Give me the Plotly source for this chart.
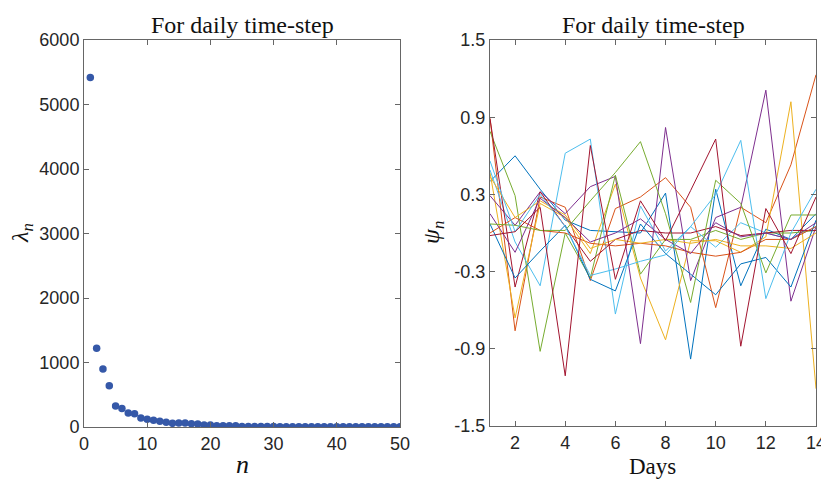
import plotly.graph_objects as go

# ---------- data ----------
n_vals = list(range(1, 51))
lambda_vals = [5420, 1220, 900, 640, 326, 285, 218, 207, 140, 119, 104, 88, 73, 57, 62, 62, 52, 47, 31, 31,
               21, 21, 21, 21, 8, 7, 7, 6, 6, 6, 5, 5, 5, 5, 4, 4, 4, 4, 4, 3,
               3, 3, 3, 3, 3, 2, 2, 2, 2, 2]

days = list(range(1, 15))
psi_blue_a = [0.40, 0.60, 0.34, 0.10, 0.02, 0.01, 0.00, 0.31, -0.98, 0.34, -0.41, 0.03, -0.05, 0.15]
psi_orange_a = [0.89, -0.76, 0.28, 0.20, -0.37, 0.19, 0.28, 0.43, 0.20, -0.58, 0.20, 0.08, 0.53, 1.23]
psi_yellow_a = [0.47, -0.66, 0.23, 0.12, -0.16, 0.38, -0.35, -0.83, -0.06, -0.06, -0.15, -0.03, 1.02, -1.21]
psi_purple_a = [0.29, 0.06, 0.32, 0.15, 0.36, 0.44, -0.86, 0.82, -0.37, 0.12, 0.20, 1.11, -0.53, 0.05]
psi_green_a = [0.79, 0.29, -0.92, 0.00, -0.35, 0.45, -0.32, -0.05, -0.05, 0.02, -0.05, 0.00, 0.00, 0.02]
psi_cyan_a = [0.49, -0.07, -0.41, 0.62, 0.73, -0.63, 0.21, -0.14, 0.05, -0.11, 0.08, 0.00, -0.05, 0.05]
psi_red_a = [0.89, -0.42, 0.32, 0.05, -0.22, -0.05, 0.02, 0.00, 0.00, 0.05, -0.02, 0.00, 0.02, 0.02]
psi_blue_b = [0.07, -0.35, -0.14, 0.06, -0.36, -0.45, 0.07, -0.16, -0.32, -0.48, -0.24, -0.19, -0.42, 0.10]
psi_orange_b = [0.00, 0.12, 0.02, 0.00, -0.08, -0.10, -0.08, -0.10, -0.15, -0.18, -0.15, -0.05, -0.05, 0.05]
psi_yellow_b = [0.44, 0.12, 0.25, 0.14, -0.12, -0.05, -0.08, -0.05, -0.08, -0.05, -0.10, -0.10, -0.12, 0.00]
psi_purple_b = [0.15, -0.15, 0.27, 0.12, -0.07, 0.00, 0.11, -0.05, -0.16, 0.08, -0.03, 0.00, -0.05, 0.08]
psi_green_b = [0.07, 0.06, 0.02, 0.02, 0.25, 0.47, 0.71, 0.15, -0.54, 0.41, 0.23, -0.31, 0.14, 0.14]
psi_cyan_b = [0.56, 0.01, 0.30, 0.05, -0.33, -0.28, -0.22, -0.17, 0.05, 0.30, 0.72, -0.51, 0.00, 0.34]
psi_red_b = [-0.02, 0.01, 0.20, -1.11, 0.68, -0.36, 0.25, -0.06, 0.33, 0.73, -0.88, 0.19, -0.16, 0.28]

psi_series = [psi_blue_a, psi_orange_a, psi_yellow_a, psi_purple_a, psi_green_a, psi_cyan_a, psi_red_a,
              psi_blue_b, psi_orange_b, psi_yellow_b, psi_purple_b, psi_green_b, psi_cyan_b, psi_red_b]
line_colors = ["#0072BD", "#D95319", "#EDB120", "#7E2F8E", "#77AC30", "#4DBEEE", "#A2142F"]

left_xticks = [0, 10, 20, 30, 40, 50]
left_yticks = [0, 1000, 2000, 3000, 4000, 5000, 6000]
right_xticks = [2, 4, 6, 8, 10, 12, 14]
right_yticks = [-1.5, -0.9, -0.3, 0.3, 0.9, 1.5]
right_yticklabels = ["-1.5", "-0.9", "-0.3", "0.3", "0.9", "1.5"]

# ---------- figure ----------
fig = go.Figure()
fig.add_trace(go.Scatter(x=n_vals, y=lambda_vals, mode="markers",
                         marker=dict(size=7.5, color="#3558A8"),
                         xaxis="x", yaxis="y", showlegend=False))
for i, s in enumerate(psi_series):
    fig.add_trace(go.Scatter(x=days, y=s, mode="lines",
                             line=dict(width=1, color=line_colors[i % 7]),
                             xaxis="x2", yaxis="y2", showlegend=False))

# page body has an 8px margin, so the figure is placed at (8, 8)
OFF = 8
W, H = 829 - OFF, 479 - OFF
def px(x):
    return (x - OFF) / W
def py(y):
    return 1 - (y - OFF) / H

tickfont = dict(family="Liberation Sans", size=18, color="#262626")
axis_common = dict(showline=True, linecolor="#666666", linewidth=1, mirror="ticks",
                   ticks="inside", ticklen=5, tickcolor="#666666", showgrid=False,
                   zeroline=False, tickfont=tickfont, automargin=False)

fig.update_layout(
    width=W, height=H,
    margin=dict(l=0, r=0, t=0, b=0, autoexpand=False),
    paper_bgcolor="white", plot_bgcolor="white",
    xaxis=dict(domain=[px(84), px(400)], range=[0, 50], tickvals=left_xticks, anchor="y", **axis_common),
    yaxis=dict(domain=[py(427), py(40)], range=[0, 6000], tickvals=left_yticks, anchor="x", **axis_common),
    xaxis2=dict(domain=[px(490), px(816)], range=[1, 14], tickvals=right_xticks, anchor="y2", **axis_common),
    yaxis2=dict(domain=[py(426), py(40)], range=[-1.5, 1.5], tickvals=right_yticks,
                ticktext=right_yticklabels, anchor="x2", **axis_common),
)

serif = "Liberation Serif"
ann = [
    dict(x=px(242), y=py(25), text="For daily time-step", font=dict(family=serif, size=24, color="#111")),
    dict(x=px(653), y=py(25), text="For daily time-step", font=dict(family=serif, size=24, color="#111")),
    dict(x=px(242), y=py(464), text="<i>n</i>", font=dict(family=serif, size=26, color="#111")),
    dict(x=px(652), y=py(466), text="Days", font=dict(family=serif, size=23, color="#111")),
    dict(x=px(22), y=py(233), text="<i>λ<sub>n</sub></i>", textangle=-90,
         font=dict(family=serif, size=24, color="#111")),
    dict(x=px(433), y=py(233), text="<i>ψ<sub>n</sub></i>", textangle=-90,
         font=dict(family=serif, size=24, color="#111")),
]
for a in ann:
    a.update(xref="paper", yref="paper", showarrow=False, xanchor="center", yanchor="middle")
fig.update_layout(annotations=ann)

fig.write_html("out.html")
